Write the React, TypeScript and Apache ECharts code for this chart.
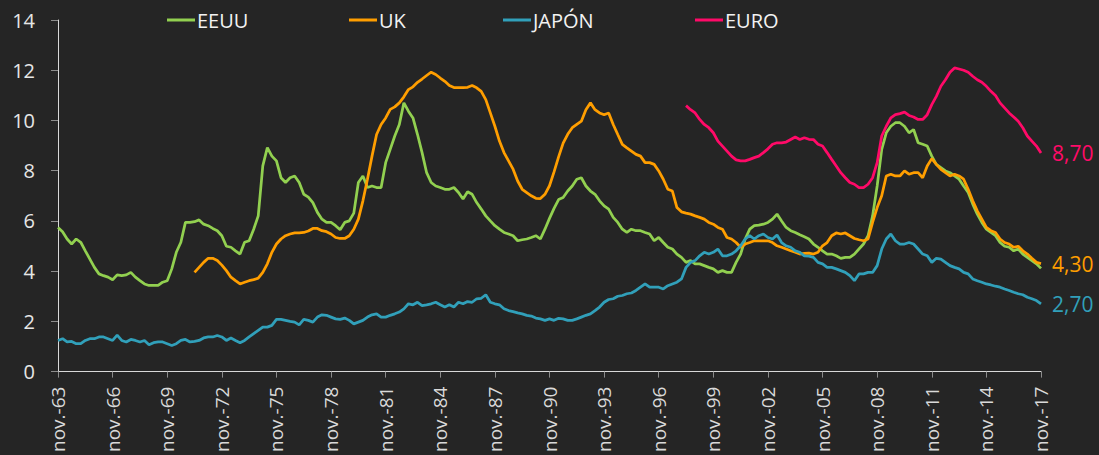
import React, { useEffect, useRef } from "react";
import * as echarts from "echarts";

// Quarterly categories from nov-63 to nov-17 (labels shown every 3 years)
const START_YEAR = 1963;
const QUARTER_MONTHS = ["nov.", "feb.", "may.", "ago."];
const N_POINTS = 217;
const categories: string[] = Array.from({ length: N_POINTS }, (_, k) => {
  const y = START_YEAR + Math.floor((k + 3) / 4);
  return `${QUARTER_MONTHS[k % 4]}-${String(y % 100).padStart(2, "0")}`;
});

const Y_MIN = 0;
const Y_MAX = 14;
const Y_STEP = 2;

const SERIES_NAMES = ["EEUU", "UK", "JAPÓN", "EURO"];

const eeuu: number[] = [
  5.74, 5.57, 5.28, 5.08, 5.28, 5.15, 4.81, 4.48, 4.15, 3.89, 3.82, 3.76,
  3.66, 3.85, 3.82, 3.85, 3.95, 3.76, 3.62, 3.49, 3.43, 3.43, 3.43, 3.56,
  3.62, 4.09, 4.75, 5.15, 5.94, 5.94, 5.97, 6.04, 5.87, 5.81, 5.7, 5.61,
  5.41, 4.99, 4.95, 4.81, 4.68, 5.15, 5.21, 5.67, 6.2, 8.19, 8.92, 8.58,
  8.39, 7.72, 7.53, 7.72, 7.79, 7.53, 7.06, 6.95, 6.73, 6.34, 6.07, 5.94,
  5.94, 5.81, 5.65, 5.94, 6.0, 6.31, 7.53, 7.79, 7.33, 7.39, 7.33, 7.33,
  8.32, 8.85, 9.38, 9.84, 10.7, 10.37, 10.1, 9.44, 8.72, 7.92, 7.53, 7.39,
  7.33, 7.26, 7.26, 7.33, 7.13, 6.87, 7.16, 7.06, 6.73, 6.47, 6.2, 6.0,
  5.81, 5.67, 5.54, 5.48, 5.41, 5.21, 5.25, 5.28, 5.34, 5.41, 5.28, 5.67,
  6.1, 6.5, 6.85, 6.93, 7.19, 7.39, 7.66, 7.72, 7.39, 7.19, 7.06, 6.8,
  6.6, 6.47, 6.14, 5.94, 5.67, 5.54, 5.67, 5.61, 5.61, 5.54, 5.48, 5.21,
  5.34, 5.14, 4.95, 4.88, 4.68, 4.55, 4.35, 4.42, 4.29, 4.29, 4.22, 4.15,
  4.09, 3.95, 4.02, 3.95, 3.95, 4.35, 4.68, 5.28, 5.67, 5.81, 5.83, 5.87,
  5.94, 6.07, 6.27, 6.0, 5.74, 5.61, 5.54, 5.45, 5.37, 5.28, 5.08, 4.95,
  4.81, 4.68, 4.68, 4.61, 4.51, 4.55, 4.55, 4.68, 4.88, 5.08, 5.41, 6.2,
  7.39, 8.85, 9.51, 9.77, 9.91, 9.91, 9.77, 9.51, 9.64, 9.11, 9.05, 8.98,
  8.58, 8.25, 8.12, 7.99, 7.92, 7.79, 7.66, 7.39, 7.13, 6.67, 6.27, 5.94,
  5.67, 5.54, 5.41, 5.14, 4.99, 4.95, 4.81, 4.88, 4.68, 4.55, 4.42, 4.29,
  4.11,
];

const UK_START = 30;
const uk: number[] = [
  3.95, 4.15, 4.35, 4.51, 4.51, 4.42,
  4.24, 4.02, 3.76, 3.62, 3.49, 3.56, 3.62, 3.66, 3.72, 3.95, 4.29, 4.75,
  5.08, 5.28, 5.41, 5.48, 5.52, 5.52, 5.54, 5.6, 5.7, 5.7, 5.61, 5.57,
  5.48, 5.34, 5.3, 5.3, 5.41, 5.67, 6.07, 6.8, 7.66, 8.58, 9.44, 9.84,
  10.1, 10.44, 10.54, 10.7, 10.94, 11.23, 11.34, 11.52, 11.65, 11.79, 11.92, 11.83,
  11.69, 11.56, 11.39, 11.31, 11.31, 11.31, 11.32, 11.39, 11.3, 11.16, 10.83, 10.3,
  9.77, 9.18, 8.72, 8.39, 8.06, 7.59, 7.26, 7.13, 7.0, 6.9, 6.89, 7.06,
  7.4, 7.95, 8.55, 9.1, 9.45, 9.71, 9.84, 9.97, 10.43, 10.7, 10.43, 10.3,
  10.23, 10.3, 9.84, 9.44, 9.05, 8.91, 8.78, 8.65, 8.58, 8.32, 8.32, 8.25,
  7.99, 7.66, 7.26, 7.19, 6.53, 6.36, 6.31, 6.27, 6.2, 6.14, 6.07, 5.94,
  5.87, 5.74, 5.67, 5.34, 5.28, 5.14, 4.95, 5.08, 5.14, 5.21, 5.21, 5.21,
  5.21, 5.14, 5.01, 4.95, 4.88, 4.81, 4.75, 4.68, 4.71, 4.72, 4.68, 4.75,
  5.01, 5.14, 5.41, 5.52, 5.48, 5.52, 5.41, 5.3, 5.25, 5.21, 5.28, 5.94,
  6.53, 7.0, 7.79, 7.86, 7.79, 7.79, 7.99, 7.86, 7.92, 7.92, 7.72, 8.19,
  8.48, 8.25, 8.05, 7.92, 7.79, 7.86, 7.79, 7.66, 7.26, 6.8, 6.4, 6.07,
  5.74, 5.61, 5.54, 5.28, 5.14, 5.08, 4.95, 4.99, 4.81, 4.68, 4.51, 4.35,
  4.3,
];

const japon: number[] = [
  1.24, 1.31, 1.18, 1.2, 1.11, 1.11, 1.24, 1.31, 1.31, 1.38, 1.38, 1.31,
  1.24, 1.45, 1.24, 1.18, 1.28, 1.24, 1.18, 1.24, 1.07, 1.15, 1.18, 1.18,
  1.11, 1.04, 1.11, 1.24, 1.28, 1.18, 1.2, 1.24, 1.34, 1.38, 1.38, 1.44,
  1.38, 1.24, 1.34, 1.24, 1.15, 1.24, 1.38, 1.51, 1.64, 1.77, 1.77, 1.84,
  2.08, 2.08, 2.04, 2.0, 1.97, 1.86, 2.08, 2.04, 1.97, 2.17, 2.26, 2.24,
  2.17, 2.1, 2.08, 2.13, 2.04, 1.9, 1.97, 2.04, 2.17, 2.26, 2.3, 2.17,
  2.17, 2.24, 2.3, 2.37, 2.5, 2.7, 2.66, 2.76, 2.63, 2.66, 2.7, 2.76,
  2.66, 2.57, 2.66, 2.57, 2.76, 2.7, 2.79, 2.76, 2.9, 2.92, 3.06, 2.76,
  2.7, 2.66, 2.5, 2.43, 2.39, 2.34, 2.3, 2.24, 2.21, 2.13, 2.1, 2.04,
  2.1, 2.04, 2.12, 2.1, 2.04, 2.04, 2.1, 2.17, 2.24, 2.3, 2.43, 2.57,
  2.76, 2.87, 2.9, 3.0, 3.03, 3.1, 3.13, 3.23, 3.36, 3.49, 3.36, 3.36,
  3.36, 3.29, 3.42, 3.49, 3.56, 3.69, 4.15, 4.35, 4.42, 4.61, 4.75, 4.68,
  4.75, 4.88, 4.61, 4.61, 4.68, 4.81, 5.01, 5.28, 5.41, 5.28, 5.41, 5.48,
  5.34, 5.28, 5.44, 5.14, 5.01, 4.95, 4.81, 4.75, 4.61, 4.6, 4.55, 4.35,
  4.29, 4.15, 4.15, 4.09, 4.02, 3.95, 3.82, 3.62, 3.89, 3.89, 3.95, 3.95,
  4.22, 4.88, 5.28, 5.48, 5.21, 5.08, 5.08, 5.14, 5.08, 4.88, 4.68, 4.61,
  4.35, 4.51, 4.48, 4.35, 4.22, 4.15, 4.09, 3.95, 3.89, 3.69, 3.62, 3.56,
  3.49, 3.45, 3.4, 3.36, 3.29, 3.23, 3.16, 3.1, 3.06, 2.96, 2.9, 2.83,
  2.7,
];

const EURO_START = 138;
const euro: number[] = [
  10.59, 10.43, 10.3, 10.04, 9.84, 9.71,
  9.51, 9.18, 8.98, 8.78, 8.58, 8.43, 8.39, 8.39, 8.45, 8.52, 8.58, 8.72,
  8.87, 9.05, 9.11, 9.11, 9.14, 9.24, 9.34, 9.24, 9.31, 9.25, 9.24, 9.05,
  8.98, 8.72, 8.45, 8.19, 7.92, 7.72, 7.53, 7.46, 7.33, 7.33, 7.46, 7.72,
  8.32, 9.38, 9.77, 10.1, 10.23, 10.27, 10.33, 10.2, 10.14, 10.04, 10.04, 10.23,
  10.63, 10.96, 11.36, 11.62, 11.92, 12.09, 12.05, 12.0, 11.92, 11.76, 11.62, 11.52,
  11.36, 11.16, 10.99, 10.7, 10.5, 10.3, 10.14, 9.97, 9.71, 9.38, 9.18, 8.98,
  8.7,
];

const COLORS = ["#92D050", "#FF9E00", "#31A0BA", "#FF0A68"];
const LEGEND_LEFT = [162, 344, 498, 690];

const pad = (start: number, vals: number[]) =>
  [...Array(start).fill(null), ...vals];

const fmt = (v: number) => Number(v).toFixed(2).replace(".", ",");

export default function App() {
  const ref = useRef<HTMLDivElement>(null);

  useEffect(() => {
    if (!ref.current) return;
    const chart = echarts.init(ref.current, undefined, { renderer: "svg" });
    const seriesData = [eeuu, pad(UK_START, uk), japon, pad(EURO_START, euro)];
    const every3y = (i: number) => i % 12 === 0;

    chart.setOption({
      animation: false,
      backgroundColor: "#252525",
      textStyle: { fontFamily: "Open Sans" },
      legend: SERIES_NAMES.map((name, i) => ({
        data: [name],
        left: LEGEND_LEFT[i],
        top: 5,
        icon: "rect",
        itemWidth: 28,
        itemHeight: 3,
        itemGap: 0,
        selectedMode: false,
        textStyle: {
          color: "#f2f2f2",
          fontSize: 20,
          fontFamily: "Open Sans",
          padding: [0, 0, 0, -3],
        },
      })),
      grid: { left: 58, right: 58, top: 20, bottom: 82, containLabel: false },
      xAxis: {
        type: "category",
        data: categories,
        boundaryGap: false,
        axisLine: { show: true, lineStyle: { color: "#d9d9d9", width: 1 } },
        axisTick: {
          show: true,
          interval: (i: number) => every3y(i),
          length: 6,
          lineStyle: { color: "#8c8c8c" },
        },
        axisLabel: {
          interval: (i: number) => every3y(i),
          rotate: 90,
          margin: 15,
          color: "#d9d9d9",
          fontSize: 19,
          fontFamily: "Open Sans",
        },
        splitLine: { show: false },
      },
      yAxis: {
        type: "value",
        min: Y_MIN,
        max: Y_MAX,
        interval: Y_STEP,
        axisLine: { show: true, lineStyle: { color: "#d9d9d9", width: 1 } },
        axisTick: { show: true, length: 7, lineStyle: { color: "#8c8c8c" } },
        axisLabel: {
          margin: 23,
          color: "#e6e6e6",
          fontSize: 20,
          fontFamily: "Open Sans",
        },
        splitLine: { show: false },
      },
      series: SERIES_NAMES.map((name, i) => ({
        name,
        type: "line",
        data: seriesData[i],
        showSymbol: false,
        symbol: "none",
        connectNulls: false,
        color: COLORS[i],
        lineStyle: { color: COLORS[i], width: 2.75 },
        itemStyle: { color: COLORS[i] },
        endLabel: {
          show: i !== 0,
          formatter: (p: any) => fmt(Array.isArray(p.value) ? p.value[1] : p.value),
          color: COLORS[i],
          fontSize: 21,
          fontFamily: "Open Sans",
          distance: 11,
        },
      })),
    });

    return () => chart.dispose();
  }, []);

  return (
    <div
      ref={ref}
      style={{ position: "absolute", left: 0, top: 0, width: 1099, height: 455 }}
    />
  );
}
